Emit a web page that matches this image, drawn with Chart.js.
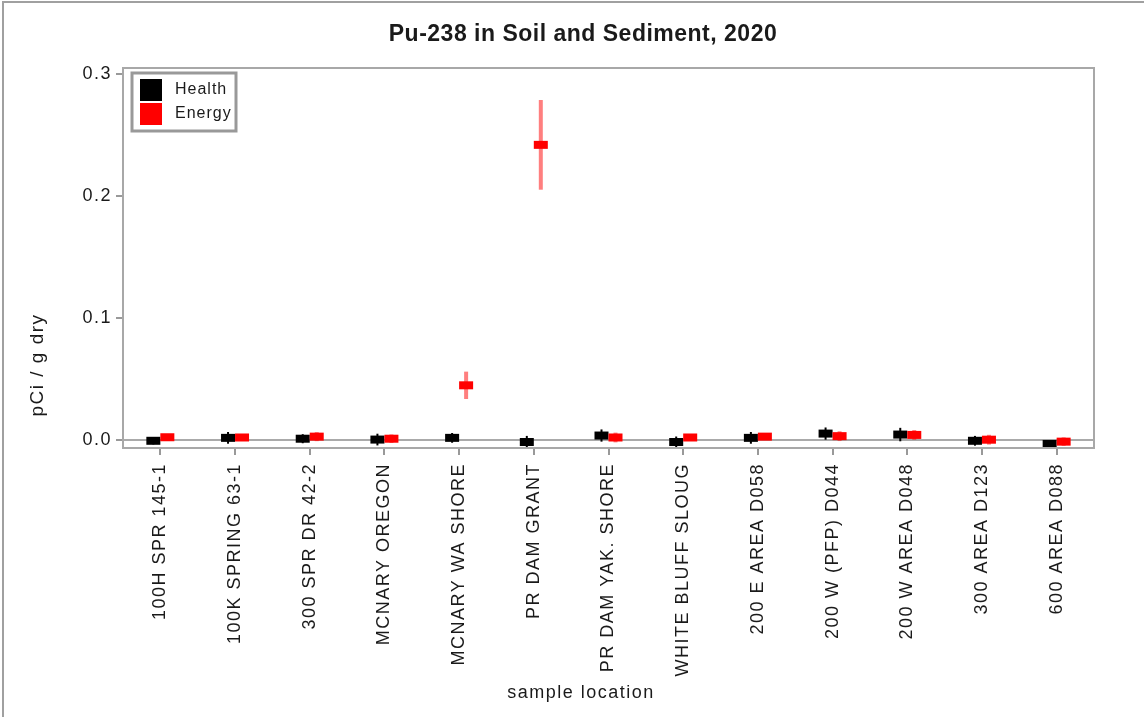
<!DOCTYPE html>
<html>
<head>
<meta charset="utf-8">
<title>Pu-238 in Soil and Sediment, 2020</title>
<script src="https://cdn.jsdelivr.net/npm/chart.js@4.4.1/dist/chart.umd.min.js"></script>
<style>
  html, body { margin: 0; padding: 0; background: #fff; }
  canvas { display: block; }
</style>
</head>
<body>
<canvas id="pu238" width="1144" height="717"></canvas>
<script>
// sample locations along the x axis
const locations = [
    '100H SPR 145-1', '100K SPRING 63-1', '300 SPR DR 42-2', 'MCNARY OREGON',
    'MCNARY WA SHORE', 'PR DAM GRANT', 'PR DAM YAK. SHORE', 'WHITE BLUFF SLOUG',
    '200 E AREA D058', '200 W (PFP) D044', '200 W AREA D048', '300 AREA D123',
    '600 AREA D088'
];

// pCi/g dry
const healthValues = [-0.0004, 0.0020, 0.0013, 0.0006, 0.0020, -0.0014, 0.0039, -0.0014, 0.0020, 0.0055, 0.0047, -0.0004, -0.0030];
const healthErrors = [0.0030, 0.0048, 0.0037, 0.0048, 0.0040, 0.0050, 0.0050, 0.0045, 0.0048, 0.0050, 0.0055, 0.0040, 0.0030];
const energyValues = [0.0025, 0.0023, 0.0030, 0.0013, 0.0450, 0.2418, 0.0023, 0.0023, 0.0030, 0.0034, 0.0044, 0.0005, -0.0011];
const energyErrors = [0.0020, 0.0020, 0.0037, 0.0035, 0.0112, 0.0367, 0.0040, 0.0020, 0.0020, 0.0040, 0.0040, 0.0040, 0.0035];

const yTicks = [0, 0.1, 0.2, 0.3];

const FONT = "'Liberation Sans', Arial, sans-serif";
const TEXT = '#1a1a1a';

// markers + error bars, drawn off the library's own scale positions
const errorBars = {
    id: 'errorBars',
    beforeDraw(chart) {
        chart.ctx.letterSpacing = '1.5px';
    },
    afterDatasetsDraw(chart) {
        const ctx = chart.ctx;
        const yScale = chart.scales.y;
        ctx.save();
        chart.data.datasets.forEach((ds, di) => {
            const meta = chart.getDatasetMeta(di);
            meta.data.forEach((pt, i) => {
                const x = pt.x + ds.shift;
                const top = yScale.getPixelForValue(ds.data[i] + ds.errors[i]);
                const bot = yScale.getPixelForValue(ds.data[i] - ds.errors[i]);
                ctx.strokeStyle = ds.errorColor;
                ctx.lineWidth = ds.errorWidth;
                ctx.beginPath();
                ctx.moveTo(x, top);
                ctx.lineTo(x, bot);
                ctx.stroke();
                ctx.fillStyle = ds.backgroundColor;
                ctx.fillRect(x - 7, pt.y - 4, 14, 8);
            });
        });
        ctx.restore();
    },
    afterDraw(chart) {
        const ctx = chart.ctx;
        const area = chart.chartArea;
        ctx.save();

        // outer frame of the picture
        ctx.strokeStyle = '#a0a0a0';
        ctx.lineWidth = 2;
        ctx.beginPath();
        ctx.moveTo(3, 717);
        ctx.lineTo(3, 2);
        ctx.lineTo(1144, 2);
        ctx.stroke();

        // plot frame
        ctx.strokeStyle = '#a8a8a8';
        ctx.lineWidth = 2;
        ctx.strokeRect(area.left, area.top, area.right - area.left, area.bottom - area.top);

        // title
        ctx.fillStyle = TEXT;
        ctx.textAlign = 'center';
        ctx.textBaseline = 'middle';
        ctx.letterSpacing = '0.5px';
        ctx.font = 'bold 23px ' + FONT;
        ctx.fillText('Pu-238 in Soil and Sediment, 2020', 583, 35);

        // axis titles
        ctx.letterSpacing = '1.5px';
        ctx.font = '18px ' + FONT;
        ctx.fillText('sample location', 581, 693);
        ctx.save();
        ctx.translate(38, 365);
        ctx.rotate(-Math.PI / 2);
        ctx.font = '19px ' + FONT;
        ctx.fillText('pCi / g dry', 0, 0);
        ctx.restore();

        // legend box
        ctx.strokeStyle = '#999';
        ctx.lineWidth = 3;
        ctx.strokeRect(132, 73, 104, 58);
        ctx.textAlign = 'left';
        ctx.letterSpacing = '1px';
        ctx.font = '16px ' + FONT;
        chart.data.datasets.forEach((ds, di) => {
            const y = 79 + di * 24;
            ctx.fillStyle = ds.backgroundColor;
            ctx.fillRect(140, y, 22, 22);
            ctx.fillStyle = TEXT;
            ctx.fillText(ds.label, 175, y + 11);
        });
        ctx.restore();
    }
};

new Chart(document.getElementById('pu238').getContext('2d'), {
    type: 'line',
    data: {
        labels: locations,
        datasets: [{
            label: 'Health',
            data: healthValues,
            errors: healthErrors,
            backgroundColor: '#000000',
            borderColor: '#000000',
            errorColor: '#000000',
            errorWidth: 2,
            shift: -7,
            showLine: false,
            pointRadius: 0
        }, {
            label: 'Energy',
            data: energyValues,
            errors: energyErrors,
            backgroundColor: '#ff0000',
            borderColor: '#ff0000',
            errorColor: 'rgba(255, 0, 0, 0.5)',
            errorWidth: 4,
            shift: 7,
            showLine: false,
            pointRadius: 0
        }]
    },
    options: {
        responsive: false,
        animation: false,
        layout: { padding: { top: 68, right: 50, left: 0, bottom: 0 } },
        plugins: {
            legend: { display: false },
            tooltip: { enabled: false },
            title: { display: false }
        },
        scales: {
            x: {
                type: 'category',
                offset: true,
                border: { display: false },
                grid: {
                    drawOnChartArea: false,
                    drawTicks: true,
                    tickLength: 7,
                    color: '#999',
                    lineWidth: 2
                },
                ticks: {
                    autoSkip: false,
                    minRotation: 90,
                    maxRotation: 90,
                    padding: 8,
                    color: TEXT,
                    font: { family: FONT, size: 18 }
                },
                afterFit(scale) { scale.height = 269; }
            },
            y: {
                min: -0.0063,
                max: 0.3047,
                border: { display: false },
                grid: {
                    color: c => (c.tick && c.tick.value === 0 ? '#aaa' : 'rgba(0,0,0,0)'),
                    tickColor: '#999',
                    lineWidth: 2,
                    tickLength: 7
                },
                ticks: {
                    padding: 4,
                    color: TEXT,
                    font: { family: FONT, size: 18 },
                    callback: v => v.toFixed(1)
                },
                afterBuildTicks(scale) { scale.ticks = yTicks.map(v => ({ value: v })); },
                afterFit(scale) { scale.width = 123; }
            }
        }
    },
    plugins: [errorBars]
});
</script>
</body>
</html>
